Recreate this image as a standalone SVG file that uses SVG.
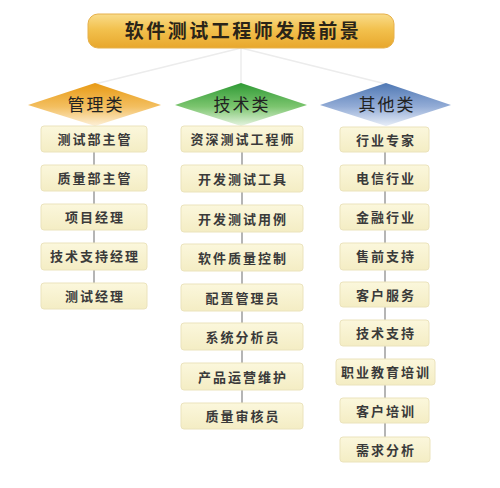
<svg xmlns="http://www.w3.org/2000/svg" width="500" height="488" viewBox="0 0 500 488">
<defs>
<linearGradient id="gTitle" x1="0" y1="0" x2="0" y2="1">
<stop offset="0" stop-color="#f9dc8a"/>
<stop offset="0.45" stop-color="#f2c14e"/>
<stop offset="1" stop-color="#e8a72c"/>
</linearGradient>
<linearGradient id="gOrange" x1="0" y1="0" x2="0" y2="1">
<stop offset="0" stop-color="#e89a14"/>
<stop offset="0.55" stop-color="#f3bf60"/>
<stop offset="1" stop-color="#fdf0d8"/>
</linearGradient>
<linearGradient id="gGreen" x1="0" y1="0" x2="0" y2="1">
<stop offset="0" stop-color="#2f9a35"/>
<stop offset="0.55" stop-color="#7cc56f"/>
<stop offset="1" stop-color="#e6f4e0"/>
</linearGradient>
<linearGradient id="gBlue" x1="0" y1="0" x2="0" y2="1">
<stop offset="0" stop-color="#4f78b4"/>
<stop offset="0.55" stop-color="#93acd6"/>
<stop offset="1" stop-color="#e8eef8"/>
</linearGradient>
<linearGradient id="gBox" x1="0" y1="0" x2="0" y2="1">
<stop offset="0" stop-color="#fbf7dc"/>
<stop offset="1" stop-color="#f4edc4"/>
</linearGradient>
</defs>
<style>
.box{fill:url(#gBox);stroke:#ebe3bc;stroke-width:1}
.bt{font-family:"Noto Sans CJK SC","Noto Sans",sans-serif;font-size:13px;font-weight:bold;fill:#3a3a3a;text-anchor:middle;letter-spacing:2px}
.ct{font-family:"Noto Sans CJK SC","Noto Sans",sans-serif;font-size:17px;fill:#222;text-anchor:middle;letter-spacing:2px}
.conn line{stroke:#b5b5b5;stroke-width:2}
.conn .top{stroke:#ececec;stroke-width:1.5}
</style>
<rect width="500" height="488" fill="#ffffff"/>

<g id="connectors" class="conn">
<line class="top" x1="241" y1="48" x2="95" y2="84"/>
<line class="top" x1="241" y1="48" x2="241" y2="84"/>
<line class="top" x1="241" y1="48" x2="386" y2="84"/>
<line x1="94" y1="152" x2="94" y2="283"/>
<line x1="242" y1="152" x2="242" y2="403"/>
<line x1="385" y1="152" x2="385" y2="438"/>
</g>

<g id="title">
<rect x="88" y="14" width="306" height="34" rx="10" fill="url(#gTitle)" stroke="#e6b04a" stroke-width="1"/>
<text x="243" y="38" font-family="'Noto Sans CJK SC','Noto Sans',sans-serif" font-size="19" font-weight="bold" fill="#2a2418" text-anchor="middle" letter-spacing="2.5">软件测试工程师发展前景</text>
</g>

<g id="cat-management">
<polygon points="95,83 161,105 95,126 28,105" fill="url(#gOrange)"/>
<text class="ct" x="96" y="111">管理类</text>
</g>
<g id="cat-tech">
<polygon points="241,83 307,105 241,126 175,105" fill="url(#gGreen)"/>
<text class="ct" x="242" y="111">技术类</text>
</g>
<g id="cat-other">
<polygon points="386,83 451,105 386,126 320,105" fill="url(#gBlue)"/>
<text class="ct" x="387" y="111">其他类</text>
</g>

<g id="m1"><rect class="box" x="41" y="126" width="106" height="26" rx="3"/><text class="bt" x="95" y="144">测试部主管</text></g>
<g id="m2"><rect class="box" x="41" y="165" width="106" height="26" rx="3"/><text class="bt" x="95" y="183">质量部主管</text></g>
<g id="m3"><rect class="box" x="41" y="204" width="106" height="26" rx="3"/><text class="bt" x="95" y="222">项目经理</text></g>
<g id="m4"><rect class="box" x="41" y="243" width="106" height="27" rx="3"/><text class="bt" x="95" y="261">技术支持经理</text></g>
<g id="m5"><rect class="box" x="41" y="283" width="106" height="26" rx="3"/><text class="bt" x="95" y="301">测试经理</text></g>

<g id="t1"><rect class="box" x="181" y="126" width="122" height="26" rx="3"/><text class="bt" x="243" y="144">资深测试工程师</text></g>
<g id="t2"><rect class="box" x="181" y="165" width="122" height="27" rx="3"/><text class="bt" x="243" y="184">开发测试工具</text></g>
<g id="t3"><rect class="box" x="181" y="205" width="122" height="27" rx="3"/><text class="bt" x="243" y="224">开发测试用例</text></g>
<g id="t4"><rect class="box" x="181" y="244" width="122" height="27" rx="3"/><text class="bt" x="243" y="263">软件质量控制</text></g>
<g id="t5"><rect class="box" x="181" y="284" width="122" height="27" rx="3"/><text class="bt" x="243" y="303">配置管理员</text></g>
<g id="t6"><rect class="box" x="181" y="323" width="122" height="27" rx="3"/><text class="bt" x="243" y="342">系统分析员</text></g>
<g id="t7"><rect class="box" x="181" y="363" width="122" height="27" rx="3"/><text class="bt" x="243" y="382">产品运营维护</text></g>
<g id="t8"><rect class="box" x="181" y="403" width="122" height="26" rx="3"/><text class="bt" x="243" y="421">质量审核员</text></g>

<g id="o1"><rect class="box" x="340" y="127" width="89" height="25" rx="3"/><text class="bt" x="386" y="145">行业专家</text></g>
<g id="o2"><rect class="box" x="340" y="165" width="89" height="26" rx="3"/><text class="bt" x="386" y="183">电信行业</text></g>
<g id="o3"><rect class="box" x="340" y="204" width="89" height="26" rx="3"/><text class="bt" x="386" y="222">金融行业</text></g>
<g id="o4"><rect class="box" x="340" y="243" width="89" height="27" rx="3"/><text class="bt" x="386" y="261">售前支持</text></g>
<g id="o5"><rect class="box" x="340" y="282" width="89" height="25" rx="3"/><text class="bt" x="386" y="300">客户服务</text></g>
<g id="o6"><rect class="box" x="340" y="320" width="89" height="26" rx="3"/><text class="bt" x="386" y="338">技术支持</text></g>
<g id="o7"><rect class="box" x="336" y="359" width="99" height="26" rx="3"/><text class="bt" x="386" y="377">职业教育培训</text></g>
<g id="o8"><rect class="box" x="340" y="398" width="89" height="25" rx="3"/><text class="bt" x="386" y="416">客户培训</text></g>
<g id="o9"><rect class="box" x="340" y="437" width="90" height="25" rx="3"/><text class="bt" x="386" y="455">需求分析</text></g>
</svg>
